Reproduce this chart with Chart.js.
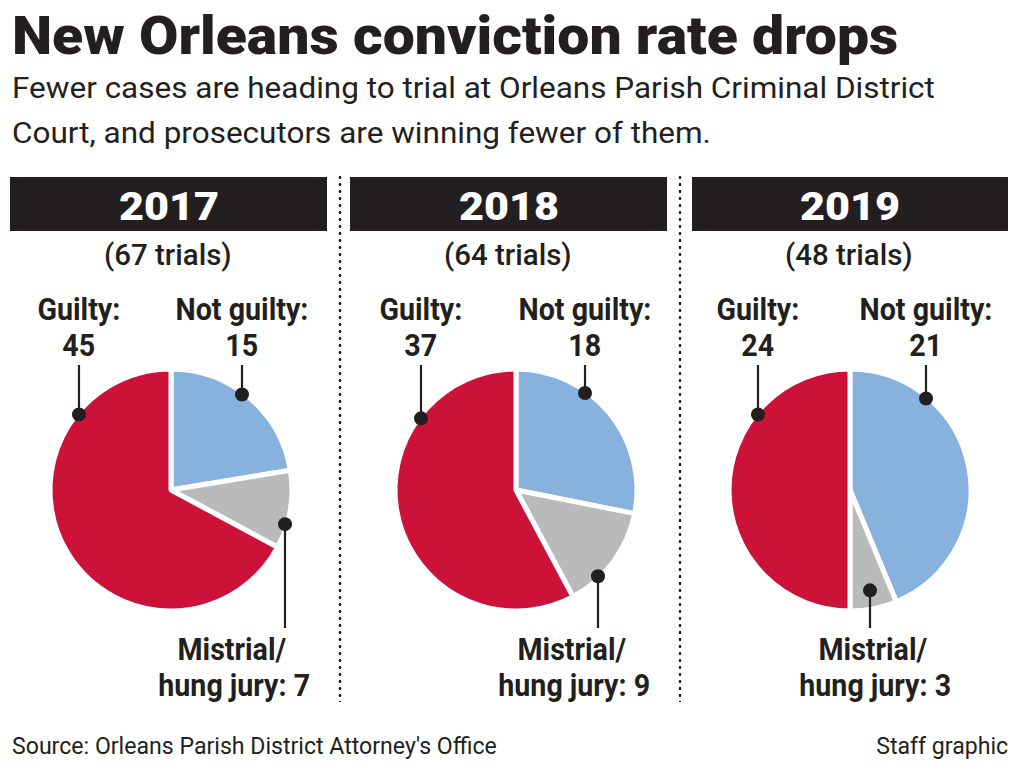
<!DOCTYPE html>
<html lang="en">
<head>
<meta charset="UTF-8">
<title>New Orleans conviction rate drops</title>
<script src="https://cdn.jsdelivr.net/npm/chart.js"></script>
<style>
  body { margin:0; width:1020px; height:772px; background:#fff; position:relative; overflow:hidden;
         font-family: Roboto, "Liberation Sans", sans-serif; color:#231f20; }
  .t { position:absolute; white-space:nowrap; line-height:1; }
  .bar { position:absolute; background:#231f20; }
  .dots { position:absolute; width:4px;
          background-image: radial-gradient(circle, #231f20 1.1px, transparent 1.7px);
          background-size:4px 7px; }
  canvas { position:absolute; }
</style>
</head>
<body>
<script>
// data
const years = ['2017', '2018', '2019'];
const trials = [67, 64, 48];
const categories = ['Not guilty', 'Mistrial/hung jury', 'Guilty'];
const notGuilty = [15, 18, 21];
const mistrial = [7, 9, 3];
const guilty = [45, 37, 24];

const sliceColors = ['#88b2de', '#b9babc', '#cc1238'];

// layout of the three panels
const barLeft = [10, 350, 692];
const barWidth = [317, 317, 316];
const pieX = [171, 516, 850];
const pieY = 490;
const guiltyX = [79, 421, 758];
const notGuiltyX = [242, 585, 926];
const mistrialLineX = [285, 598, 870];
const mistrialTextX = [234, 574, 875];
const mistrialDotK = [1, 1, 0.86];

function measure(str, size, weight) {
  const el = document.createElement('div');
  el.className = 't';
  el.style.fontSize = size + 'px';
  el.style.fontWeight = weight;
  el.textContent = str;
  document.body.appendChild(el);
  const w = el.offsetWidth;
  el.remove();
  return w;
}

// y = baseline
function text(str, x, y, size, weight, scale, align, color) {
  const el = document.createElement('div');
  el.className = 't';
  el.textContent = str;
  el.style.fontSize = size + 'px';
  el.style.fontWeight = weight;
  if (color) el.style.color = color;
  document.body.appendChild(el);
  const w = el.offsetWidth;
  let left = x, origin = '0 50%';
  if (align === 'center') { left = x - w / 2; origin = '50% 50%'; }
  if (align === 'right') { left = x - w; origin = '100% 50%'; }
  el.style.left = left + 'px';
  el.style.top = (y - 0.84 * size) + 'px';
  el.style.transformOrigin = origin;
  el.style.transform = 'scaleX(' + scale + ')';
  return el;
}

// header texts
const titleStr = 'New Orleans conviction rate drops';
text(titleStr, 12, 55, 53, 900, 886 / measure(titleStr, 53, 900), 'left');
const sub1 = 'Fewer cases are heading to trial at Orleans Parish Criminal District';
const subScale = 923 / measure(sub1, 29, 400);
text(sub1, 12, 98, 29, 400, subScale, 'left');
text('Court, and prosecutors are winning fewer of them.', 12, 143, 29, 400, subScale, 'left');

const footScale = 485 / measure("Source: Orleans Parish District Attorney's Office", 24, 400);
text("Source: Orleans Parish District Attorney's Office", 12, 754, 24, 400, footScale, 'left');
text('Staff graphic', 1008, 754, 24, 400, footScale, 'right');

// dotted separators
[340, 680].forEach(function (x) {
  const d = document.createElement('div');
  d.className = 'dots';
  d.style.left = (x - 2) + 'px';
  d.style.top = '174px';
  d.style.height = '528px';
  document.body.appendChild(d);
});

const yearScale = 100 / measure('2017', 38, 900);
const trialScale = 128 / measure('(67 trials)', 29, 500);
const labScale = 133 / measure('Not guilty:', 31, 700);

const leaders = {
  id: 'leaders',
  afterDatasetsDraw(chart, args, opts) {
    const ctx = chart.ctx;
    const arcs = chart.getDatasetMeta(0).data;
    ctx.save();
    ctx.fillStyle = '#231f20';
    ctx.strokeStyle = '#231f20';
    ctx.lineWidth = 2.2;
    opts.marks.forEach(function (m) {
      const arc = arcs[m.index];
      const x = m.x - opts.left;
      const r = (arc.outerRadius - 2) * m.k;
      const dx = x - arc.x;
      const dy = Math.sqrt(Math.max(r * r - dx * dx, 0));
      const y = arc.y + (m.side === 'top' ? -dy : dy);
      const end = (m.side === 'top' ? 365 : 628) - opts.top;
      ctx.beginPath();
      ctx.moveTo(x, end);
      ctx.lineTo(x, y);
      ctx.stroke();
      ctx.beginPath();
      ctx.arc(x, y, 7, 0, Math.PI * 2);
      ctx.fill();
    });
    ctx.restore();
  }
};

years.forEach(function (yr, i) {
  const bar = document.createElement('div');
  bar.className = 'bar';
  bar.style.left = barLeft[i] + 'px';
  bar.style.top = '177px';
  bar.style.width = barWidth[i] + 'px';
  bar.style.height = '54px';
  document.body.appendChild(bar);
  const mid = barLeft[i] + barWidth[i] / 2;
  text(yr, mid, 220, 38, 900, yearScale, 'center', '#fff');
  text('(' + trials[i] + ' trials)', mid - 1, 265, 29, 500, trialScale, 'center');

  text('Guilty:', guiltyX[i], 320, 31, 700, labScale, 'center');
  text(String(guilty[i]), guiltyX[i], 356, 31, 700, labScale, 'center');
  text('Not guilty:', notGuiltyX[i], 320, 31, 700, labScale, 'center');
  text(String(notGuilty[i]), notGuiltyX[i], 356, 31, 700, labScale, 'center');
  text('Mistrial/', mistrialTextX[i] - 2, 660, 31, 700, labScale, 'center');
  text('hung jury: ' + mistrial[i], mistrialTextX[i], 696, 31, 700, labScale, 'center');

  const left = pieX[i] - 165, top = 280;
  const cv = document.createElement('canvas');
  cv.width = 330;
  cv.height = 420;
  cv.style.left = left + 'px';
  cv.style.top = top + 'px';
  document.body.appendChild(cv);

  new Chart(cv, {
    type: 'pie',
    data: {
      labels: categories,
      datasets: [{
        data: [notGuilty[i], mistrial[i], guilty[i]],
        backgroundColor: sliceColors,
        borderColor: '#ffffff',
        borderWidth: 5
      }]
    },
    options: {
      responsive: false,
      animation: false,
      events: [],
      radius: 121,
      layout: { padding: 0 },
      plugins: {
        legend: { display: false },
        tooltip: { enabled: false },
        leaders: {
          left: left, top: top,
          marks: [
            { index: 2, x: guiltyX[i], side: 'top', k: 1 },
            { index: 0, x: notGuiltyX[i], side: 'top', k: 1 },
            { index: 1, x: mistrialLineX[i], side: 'bottom', k: mistrialDotK[i] }
          ]
        }
      }
    },
    plugins: [leaders]
  });
});
</script>
</body>
</html>
